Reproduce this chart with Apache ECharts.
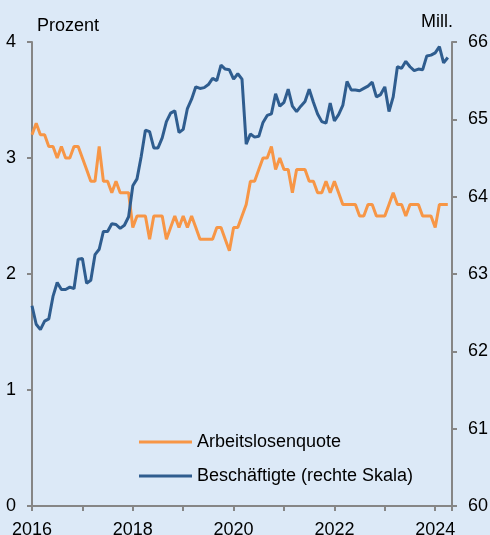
<!DOCTYPE html>
<html>
<head>
<meta charset="utf-8">
<script src="https://cdn.jsdelivr.net/npm/echarts@6/dist/echarts.min.js"></script>
<style>
  html, body { margin: 0; padding: 0; background: #dce9f7; }
  #chart { width: 490px; height: 535px; }
</style>
</head>
<body>
<div id="chart"></div>
<script>
// Monatswerte ab Januar 2016
const startYear = 2016
const yearLabels = [2016, 2018, 2020, 2022, 2024]

// Arbeitslosenquote in Prozent (linke Skala)
const arbeitslosenquote = [
  3.2, 3.3, 3.2, 3.2, 3.1, 3.1, 3.0, 3.1, 3.0, 3.0, 3.1, 3.1,
  3.0, 2.9, 2.8, 2.8, 3.1, 2.8, 2.8, 2.7, 2.8, 2.7, 2.7, 2.7,
  2.4, 2.5, 2.5, 2.5, 2.3, 2.5, 2.5, 2.5, 2.3, 2.4, 2.5, 2.4,
  2.5, 2.4, 2.5, 2.4, 2.3, 2.3, 2.3, 2.3, 2.4, 2.4, 2.3, 2.2,
  2.4, 2.4, 2.5, 2.6, 2.8, 2.8, 2.9, 3.0, 3.0, 3.1, 2.9, 3.0,
  2.9, 2.9, 2.7, 2.9, 2.9, 2.9, 2.8, 2.8, 2.7, 2.7, 2.8, 2.7,
  2.8, 2.7, 2.6, 2.6, 2.6, 2.6, 2.5, 2.5, 2.6, 2.6, 2.5, 2.5,
  2.5, 2.6, 2.7, 2.6, 2.6, 2.5, 2.6, 2.6, 2.6, 2.5, 2.5, 2.5,
  2.4, 2.6, 2.6, 2.6
]

// Beschäftigte in Mill. (rechte Skala)
const beschaeftigte = [
  62.59, 62.35, 62.28, 62.39, 62.42, 62.71, 62.89, 62.80, 62.80, 62.83, 62.81, 63.19,
  63.20, 62.88, 62.92, 63.25, 63.32, 63.55, 63.55, 63.65, 63.64, 63.59, 63.63, 63.74,
  64.14, 64.23, 64.52, 64.86, 64.84, 64.63, 64.63, 64.76, 64.97, 65.08, 65.11, 64.83,
  64.87, 65.14, 65.26, 65.42, 65.40, 65.41, 65.45, 65.53, 65.50, 65.70, 65.65, 65.64,
  65.52, 65.59, 65.52, 64.68, 64.81, 64.77, 64.78, 64.96, 65.05, 65.07, 65.33, 65.17,
  65.22, 65.39, 65.17, 65.10, 65.17, 65.23, 65.39, 65.22, 65.07, 64.97, 64.95, 65.21,
  64.98, 65.06, 65.18, 65.49, 65.38, 65.38, 65.37, 65.40, 65.43, 65.48, 65.29, 65.32,
  65.42, 65.10, 65.29, 65.68, 65.66, 65.75, 65.68, 65.63, 65.65, 65.64, 65.82, 65.83,
  65.86, 65.94, 65.73, 65.80
]

const axisColor = '#868686'
const orange = '#f79646'
const blue = '#2f5d8f'
const font = 'Liberation Sans, Arial, sans-serif'

// x-Wert = Monate seit Januar 2016
function toPoints(values) {
  return values.map((v, i) => [i, v])
}

const chart = echarts.init(document.getElementById('chart'))

chart.setOption({
  backgroundColor: '#dce9f7',
  animation: false,
  textStyle: { fontFamily: font, color: '#000' },
  grid: { left: 32, right: 38, top: 42, bottom: 29, containLabel: false, outerBoundsMode: 'none' },
  graphic: [
    { type: 'text', left: 37, top: 17, style: { text: 'Prozent', font: '18px ' + font, fill: '#000' } },
    { type: 'text', left: 421, top: 13, style: { text: 'Mill.', font: '18px ' + font, fill: '#000' } }
  ],
  legend: {
    orient: 'vertical',
    left: 134,
    top: 428,
    icon: 'rect',
    itemWidth: 53,
    itemHeight: 3,
    itemGap: 16,
    data: ['Arbeitslosenquote', 'Beschäftigte (rechte Skala)'],
    textStyle: { fontSize: 18, fontFamily: font, color: '#000' }
  },
  xAxis: {
    type: 'value',
    min: 0,
    max: 100,
    interval: 12,
    axisLine: { lineStyle: { color: axisColor, width: 2 } },
    axisTick: { show: true, length: 5, lineStyle: { color: axisColor, width: 2 } },
    splitLine: { show: false },
    axisLabel: {
      margin: 15,
      fontSize: 18,
      color: '#000',
      formatter: v => {
        const y = startYear + v / 12
        return yearLabels.includes(y) ? String(y) : ''
      }
    }
  },
  yAxis: [
    {
      type: 'value',
      min: 0,
      max: 4,
      interval: 1,
      position: 'left',
      axisLine: { show: true, lineStyle: { color: axisColor, width: 2 } },
      axisTick: { show: true, length: 5, lineStyle: { color: axisColor, width: 2 } },
      splitLine: { show: false },
      axisLabel: { margin: 16, fontSize: 18, color: '#000' }
    },
    {
      type: 'value',
      min: 60,
      max: 66,
      interval: 1,
      position: 'right',
      axisLine: { show: true, lineStyle: { color: axisColor, width: 2 } },
      axisTick: { show: true, length: 5, lineStyle: { color: axisColor, width: 2 } },
      splitLine: { show: false },
      axisLabel: { margin: 16, fontSize: 18, color: '#000' }
    }
  ],
  series: [
    {
      name: 'Arbeitslosenquote',
      type: 'line',
      yAxisIndex: 0,
      symbol: 'none',
      lineStyle: { color: orange, width: 3 },
      itemStyle: { color: orange },
      data: toPoints(arbeitslosenquote)
    },
    {
      name: 'Beschäftigte (rechte Skala)',
      type: 'line',
      yAxisIndex: 1,
      symbol: 'none',
      lineStyle: { color: blue, width: 3 },
      itemStyle: { color: blue },
      data: toPoints(beschaeftigte)
    }
  ]
})
</script>
</body>
</html>
